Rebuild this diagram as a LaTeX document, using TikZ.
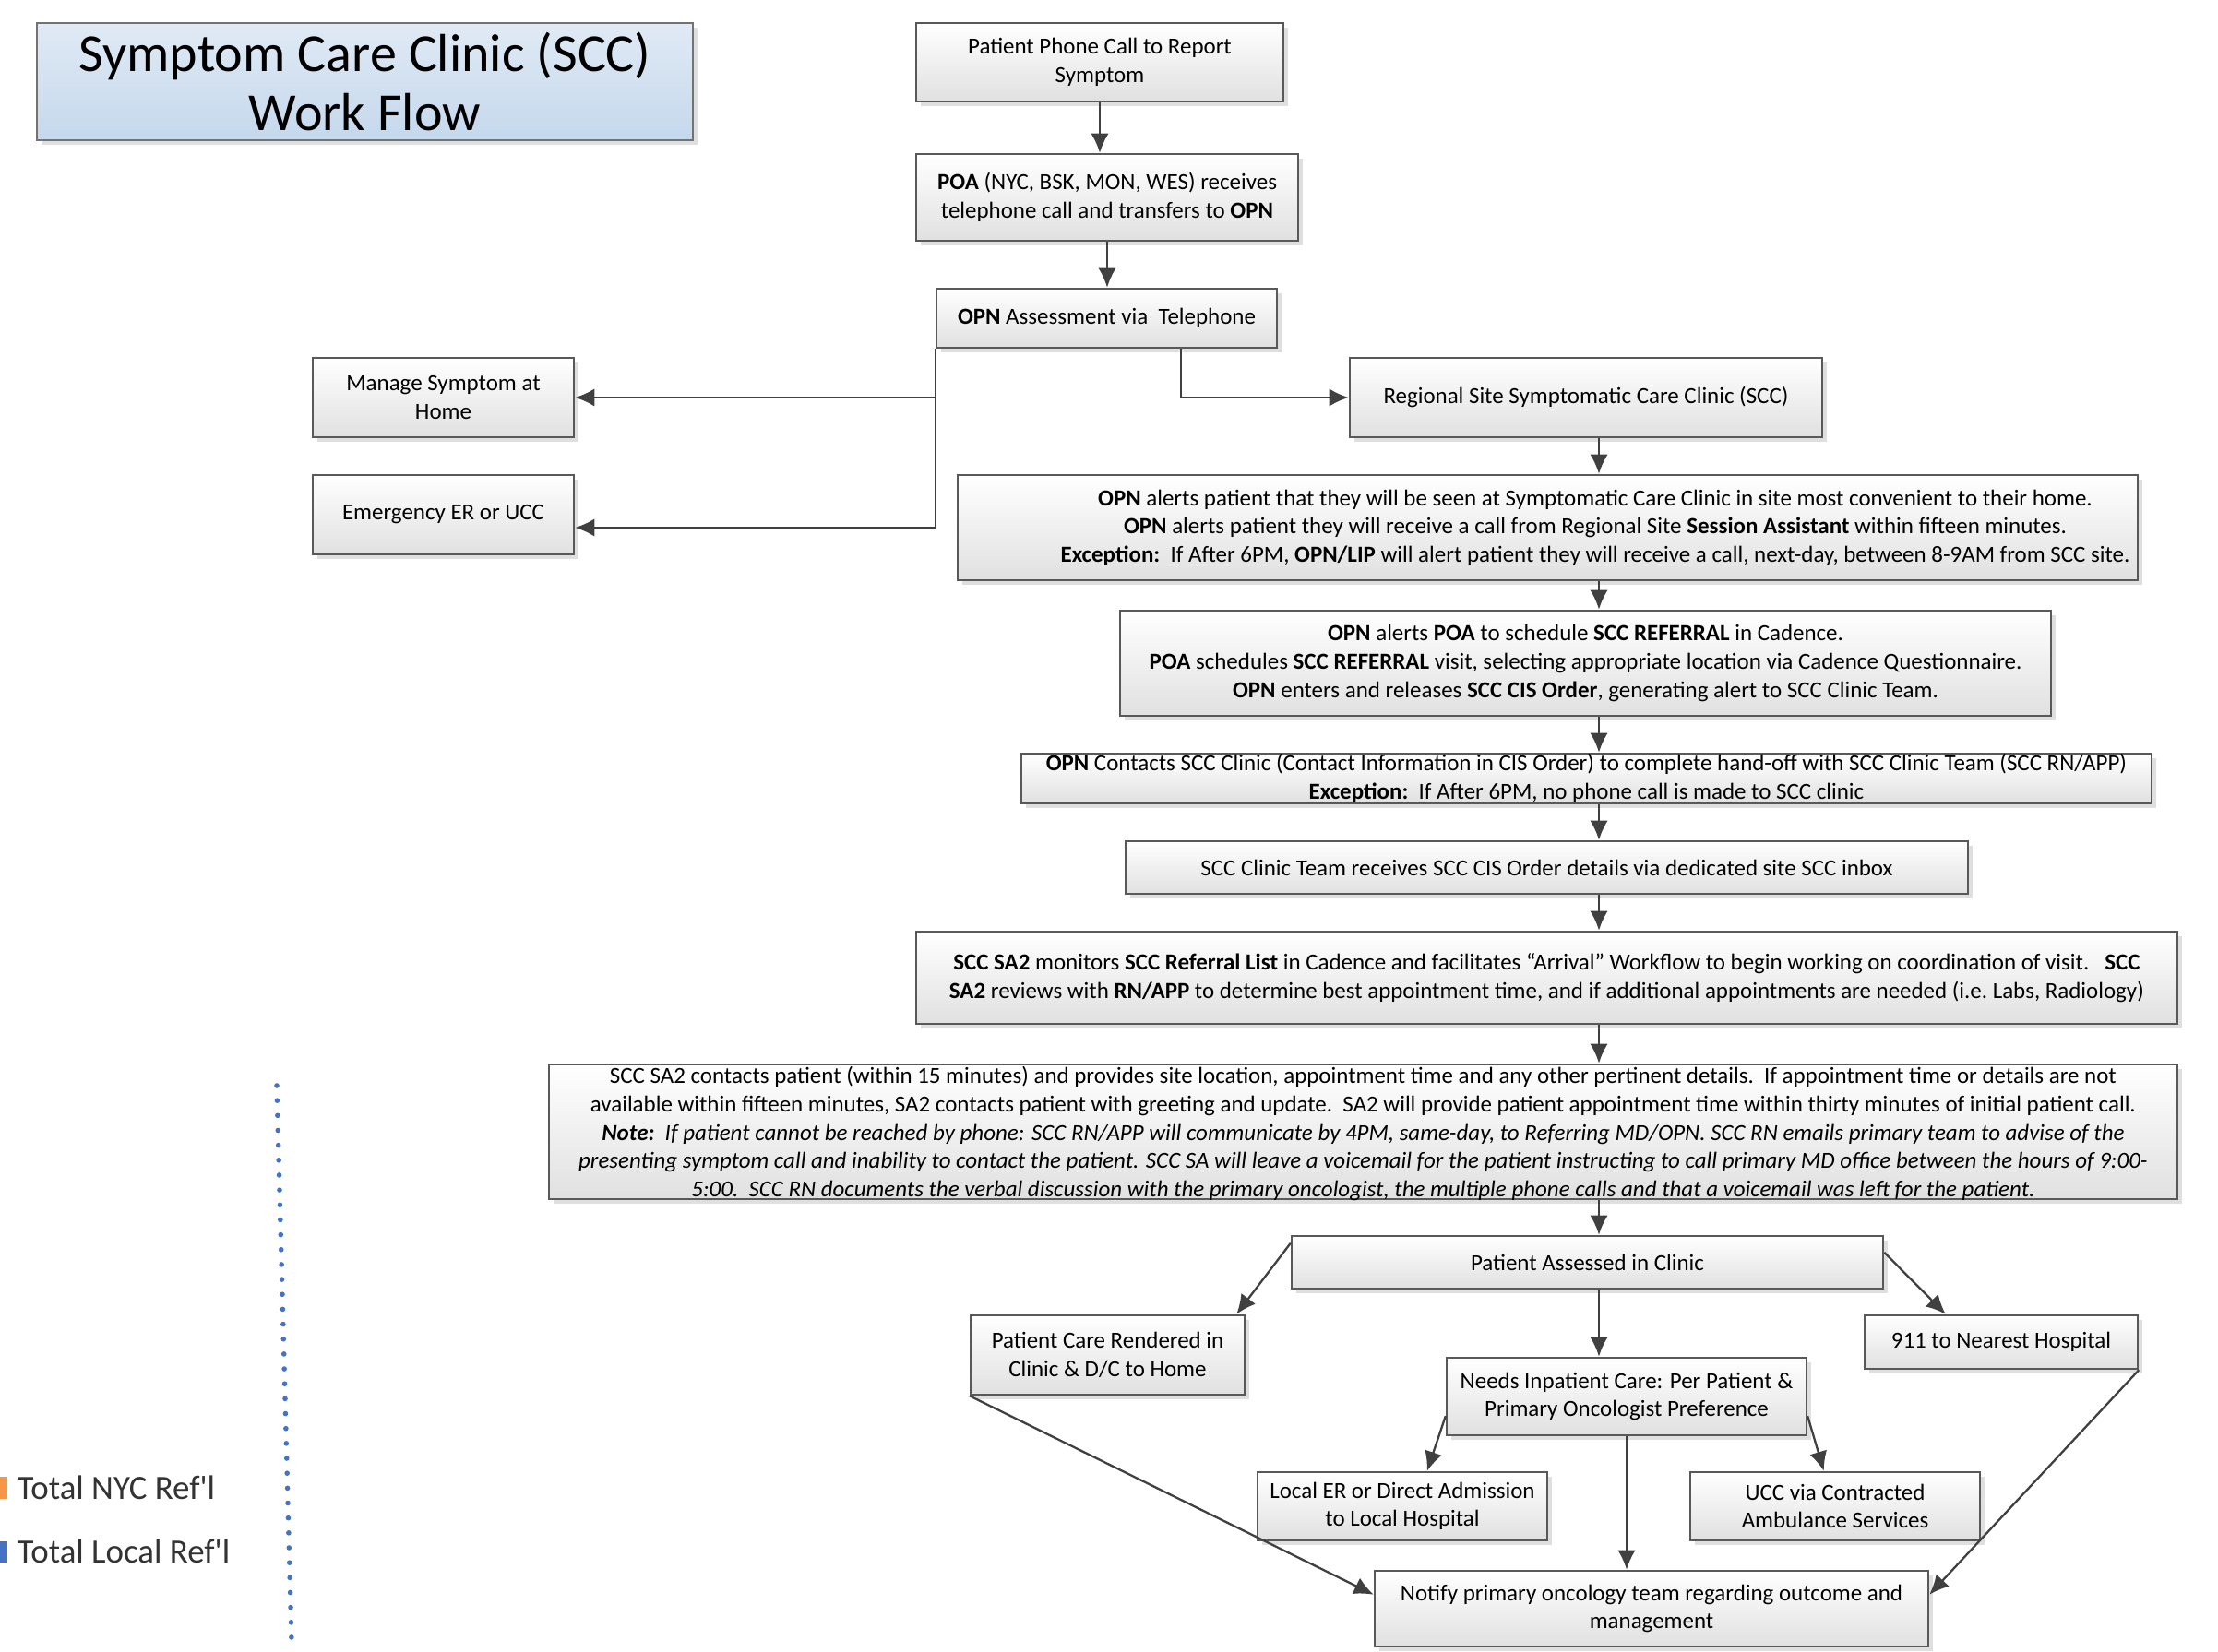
\documentclass[tikz,border=0pt]{standalone}
\usepackage{fontspec}
\setmainfont{Carlito}
\usetikzlibrary{arrows.meta,shadows}
\definecolor{titletop}{RGB}{224,234,245}
\definecolor{titlebot}{RGB}{197,216,236}
\definecolor{legorange}{RGB}{247,150,70}
\definecolor{legblue}{RGB}{68,114,196}
\begin{document}
\begin{tikzpicture}[box/.style={draw=black!65,line width=0.7pt,top color=white,bottom color=black!12,
                      drop shadow={shadow xshift=1.5pt,shadow yshift=-1.5pt,opacity=0.25},
                      align=center,inner sep=1pt,font=\fontsize{7.1}{8.7}\selectfont},
                    titlebox/.style={box,draw=black!55,top color=titletop,bottom color=titlebot,
                      font=\fontsize{16.5}{18.2}\selectfont},
                    txt/.style={align=center,inner sep=0pt,font=\fontsize{7.1}{8.7}\selectfont},
                    legend/.style={anchor=west,inner sep=0pt,text=black!80,font=\fontsize{10.5}{12}\selectfont},
                    goto/.style={->,draw=black!75,line width=0.65pt},>={Latex[length=6pt,width=5.5pt]}]
\useasboundingbox (0,0) rectangle (24.04,-17.91);
\node[titlebox,minimum width=7.11cm,minimum height=1.27cm] (title) at (3.955,-0.885) {Symptom Care Clinic (SCC)\\Work Flow};
\node[box,minimum width=3.98cm,minimum height=0.85cm] (call) at (11.92,-0.675) {Patient Phone Call to Report\\Symptom};
\node[box,minimum width=4.14cm,minimum height=0.94cm] (poa) at (12.00,-2.14) {\textbf{POA} (NYC, BSK, MON, WES) receives\\telephone call and transfers to \textbf{OPN}};
\node[box,minimum width=3.69cm,minimum height=0.64cm] (opn) at (11.995,-3.45) {\textbf{OPN} Assessment via\ \ Telephone};
\node[box,minimum width=2.83cm,minimum height=0.86cm] (home) at (4.805,-4.31) {Manage Symptom at\\Home};
\node[box,minimum width=2.83cm,minimum height=0.86cm] (er) at (4.805,-5.58) {Emergency ER or UCC};
\node[box,minimum width=5.12cm,minimum height=0.86cm] (regional) at (17.19,-4.31) {Regional Site Symptomatic Care Clinic (SCC)};
\node[box,minimum width=12.79cm,minimum height=1.14cm] (alerts) at (16.775,-5.72) {};
\node[txt] (alertstext) at (17.29,-5.72) {\textbf{OPN} alerts patient that they will be seen at Symptomatic Care Clinic in site most convenient to their home.\\
  \textbf{OPN} alerts patient they will receive a call from Regional Site \textbf{Session Assistant} within fifteen minutes.\\
  \textbf{Exception:}\ \ If After 6PM, \textbf{OPN/LIP} will alert patient they will receive a call, next-day, between 8-9AM from SCC site.};
\node[box,minimum width=10.09cm,minimum height=1.14cm] (sched) at (17.185,-7.19) {\textbf{OPN} alerts \textbf{POA} to schedule \textbf{SCC REFERRAL} in Cadence.\\
  \textbf{POA} schedules \textbf{SCC REFERRAL} visit, selecting appropriate location via Cadence Questionnaire.\\
  \textbf{OPN} enters and releases \textbf{SCC CIS Order}, generating alert to SCC Clinic Team.};
\node[box,minimum width=12.25cm,minimum height=0.54cm,inner ysep=0pt] (handoff) at (17.195,-8.44) {\textbf{OPN} Contacts SCC Clinic (Contact Information in CIS Order) to complete hand-off with SCC Clinic Team (SCC RN/APP)\\
  \textbf{Exception:}\ \ If After 6PM, no phone call is made to SCC clinic};
\node[box,minimum width=9.13cm,minimum height=0.57cm] (inbox) at (16.765,-9.405) {SCC Clinic Team receives SCC CIS Order details via dedicated site SCC inbox};
\node[box,minimum width=13.67cm,minimum height=1.00cm] (monitor) at (16.765,-10.60) {\textbf{SCC SA2} monitors \textbf{SCC Referral List} in Cadence and facilitates “Arrival” Workflow to begin working on coordination of visit.\ \ \ \textbf{SCC}\\
  \textbf{SA2} reviews with \textbf{RN/APP} to determine best appointment time, and if additional appointments are needed (i.e.\ Labs, Radiology)};
\node[box,minimum width=17.65cm,minimum height=1.46cm,inner ysep=0pt,text depth=0pt] (contact) at (14.775,-12.27) {SCC SA2 contacts patient (within 15 minutes) and provides site location, appointment time and any other pertinent details.\ \ If appointment time or details are not\\
  available within fifteen minutes, SA2 contacts patient with greeting and update.\ \ SA2 will provide patient appointment time within thirty minutes of initial patient call.\\
  \textbf{\textit{Note:}}\ \ \textit{If patient cannot be reached by phone: SCC RN/APP will communicate by 4PM, same-day, to Referring MD/OPN. SCC RN emails primary team to advise of the}\\
  \textit{presenting symptom call and inability to contact the patient. SCC SA will leave a voicemail for the patient instructing to call primary MD office between the hours of 9:00-}\\
  \textit{5:00.\ \ SCC RN documents the verbal discussion with the primary oncologist, the multiple phone calls and that a voicemail was left for the patient.}};
\node[box,minimum width=6.41cm,minimum height=0.57cm] (assess) at (17.205,-13.685) {Patient Assessed in Clinic};
\node[box,minimum width=2.97cm,minimum height=0.86cm] (rendered) at (12.005,-14.69) {Patient Care Rendered in\\Clinic \& D/C to Home};
\node[box,minimum width=2.96cm,minimum height=0.58cm] (nine) at (21.69,-14.55) {911 to Nearest Hospital};
\node[box,minimum width=3.90cm,minimum height=0.84cm] (inpatient) at (17.63,-15.14) {Needs Inpatient Care: Per Patient \&\\Primary Oncologist Preference};
\node[box,minimum width=3.14cm,minimum height=0.74cm] (localer) at (15.20,-16.33) {Local ER or Direct Admission\\to Local Hospital};
\node[box,minimum width=3.14cm,minimum height=0.74cm] (ucc) at (19.89,-16.33) {UCC via Contracted\\Ambulance Services};
\node[box,minimum width=6.00cm,minimum height=0.82cm] (notify) at (17.90,-17.44) {Notify primary oncology team regarding outcome and\\management};
\coordinate (spine) at (17.33,0);
\draw[goto] (call.south) -- (call.south |- poa.north);
\draw[goto] (poa.south) -- (poa.south |- opn.north);
\draw[goto] (opn.south west) |- (home.east);
\draw[goto] (opn.south west) |- ([yshift=-0.14cm]er.east);
\draw[goto] ([xshift=0.805cm]opn.south) |- (regional.west);
\draw[goto] (regional.south -| spine) -- (alerts.north -| spine);
\draw[goto] (alerts.south -| spine) -- (sched.north -| spine);
\draw[goto] (sched.south -| spine) -- (handoff.north -| spine);
\draw[goto] (handoff.south -| spine) -- (inbox.north -| spine);
\draw[goto] (inbox.south -| spine) -- (monitor.north -| spine);
\draw[goto] (monitor.south -| spine) -- (contact.north -| spine);
\draw[goto] (contact.south -| spine) -- (assess.north -| spine);
\draw[goto] (assess.south -| spine) -- (inpatient.north -| spine);
\draw[goto] ([yshift=-0.09cm]assess.north west) -- ([xshift=-0.1cm]rendered.north east);
\draw[goto] ([yshift=-0.19cm]assess.north east) -- ([xshift=0.89cm]nine.north west);
\draw[goto] ([yshift=0.22cm]inpatient.south west) -- ([xshift=1.85cm]localer.north west);
\draw[goto] ([yshift=0.22cm]inpatient.south east) -- ([xshift=1.46cm]ucc.north west);
\draw[goto] (inpatient.south) -- (inpatient.south |- notify.north);
\draw[goto] (rendered.south west) -- ([yshift=-0.27cm]notify.north west);
\draw[goto] (nine.south east) -- ([yshift=-0.27cm]notify.north east);
\fill[legorange] (0,-16.01) rectangle (0.08,-16.25);
\fill[legblue] (0,-16.71) rectangle (0.08,-16.94);
\node[legend] (nyc) at (0.18,-16.13) {Total NYC Ref\textquotesingle l};
\node[legend] (local) at (0.18,-16.82) {Total Local Ref\textquotesingle l};
\draw[legblue,line width=1.6pt,line cap=round,dash pattern=on 0pt off 4.6pt] (3.00,-11.77) -- (3.16,-17.79);
\end{tikzpicture}
\end{document}
